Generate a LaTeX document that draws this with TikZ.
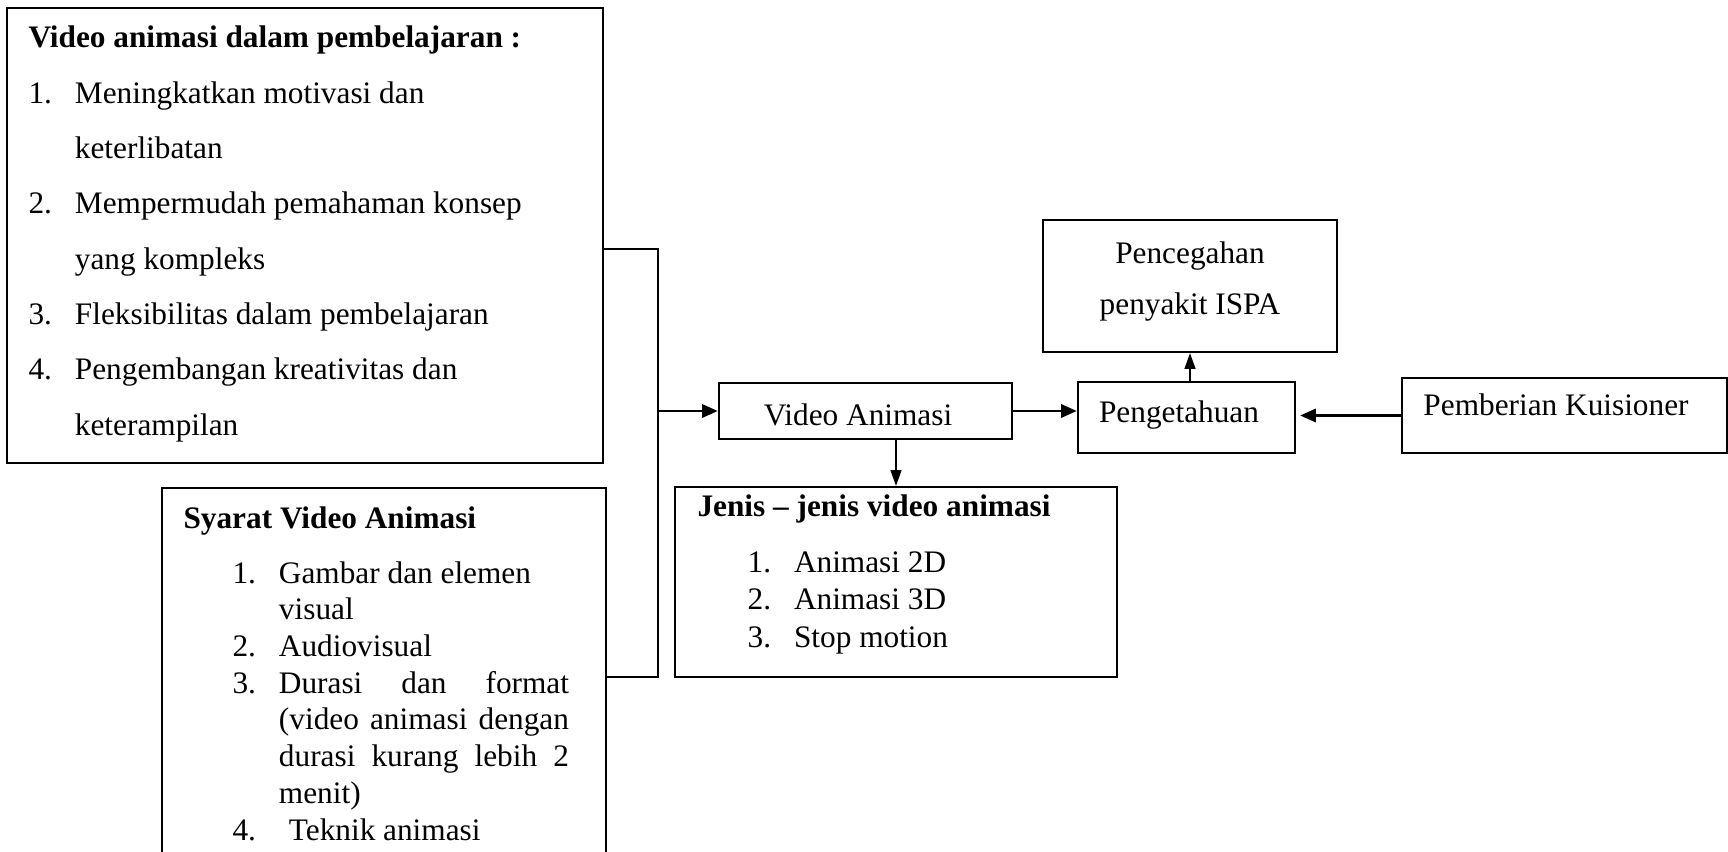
\documentclass[tikz,border=0pt]{standalone}
\usepackage{fontspec}
\setmainfont{Liberation Serif}
\usetikzlibrary{positioning,fit,calc,arrows.meta}

\newcommand{\itemno}[1]{\makebox[17.8pt][l]{#1}}
\newcommand{\syitem}[1]{\hspace*{18.8pt}\itemno{#1}}
\newcommand{\jnitem}[1]{\hspace*{19.2pt}\itemno{#1}}

\begin{document}
\begin{tikzpicture}[x=0.3834pt, y=-0.3834pt, line join=miter,
  font=\fontsize{12}{14.4}\selectfont,
  box/.style={draw, line width=0.9pt, inner sep=0pt},
  txt/.style={anchor=base west, align=left, inner sep=0pt},
  label/.style={anchor=base, inner sep=0pt},
  link/.style={line width=0.8pt},
  arr/.style={line width=1.1pt, -{Triangle[length=6pt,width=5pt]}},
  thinarr/.style={line width=0.5pt, -{Triangle[length=6pt,width=4.2pt]}}]
  \useasboundingbox (0,0) rectangle (1728,851);

  % boxes
  \node[box, line width=0.6pt, fit={(7,8) (603,463)}] (benefit) {};
  \node[box, fit={(162,488) (606,880)}] (syarat) {};
  \node[box, fit={(719,383) (1012,439)}] (va) {};
  \node[box, fit={(675,487) (1117,677)}] (jenis) {};
  \node[box, fit={(1078,382) (1295,453)}] (peng) {};
  \node[box, fit={(1043,220) (1337,352)}] (cegah) {};
  \node[box, fit={(1402,378) (1727,453)}] (kuis) {};

  % short texts (base of the last line)
  \node[label] (vatext) at (858,425) {Video Animasi};
  \node[label] (pengtext) at (1179,422) {Pengetahuan};
  \node[label] (kuistext) at (1556,415) {Pemberian Kuisioner};
  \node[label, align=center, font=\fontsize{12}{19.2}\selectfont]
       (cegahtext) at (1190,314) {Pencegahan\\penyakit ISPA};

  % lists
  \node[txt, font=\fontsize{12}{21.2}\selectfont] (benefittext) at (28,435) {%
    \textbf{Video animasi dalam pembelajaran :}\\
    \itemno{1.}Meningkatkan motivasi dan\\
    \itemno{}keterlibatan\\
    \itemno{2.}Mempermudah pemahaman konsep\\
    \itemno{}yang kompleks\\
    \itemno{3.}Fleksibilitas dalam pembelajaran\\
    \itemno{4.}Pengembangan kreativitas dan\\
    \itemno{}keterampilan};
  \node[txt, font=\fontsize{12}{14.07}\selectfont] (syarattext) at (183,840) {%
    \textbf{Syarat Video Animasi}\\[7pt]
    \syitem{1.}Gambar dan elemen\\
    \syitem{}visual\\
    \syitem{2.}Audiovisual\\
    \syitem{3.}\makebox[111.2pt][s]{Durasi dan format}\\
    \syitem{}\makebox[111.2pt][s]{(video animasi dengan}\\
    \syitem{}\makebox[111.2pt][s]{durasi kurang lebih 2}\\
    \syitem{}menit)\\
    \syitem{4.}\hspace{3.8pt}Teknik animasi};
  \node[txt, font=\fontsize{12}{14.2}\selectfont] (jenistext) at (697,647) {%
    \textbf{Jenis -- jenis video animasi}\\[7.3pt]
    \jnitem{1.}Animasi 2D\\
    \jnitem{2.}Animasi 3D\\
    \jnitem{3.}Stop motion};

  % connectors
  \coordinate (bustop) at (658,249);
  \coordinate (busbot) at (658,677);
  \draw[link] (bustop -| benefit.east) -- (bustop) -- (busbot) -- (busbot -| syarat.east);
  \draw[arr] (bustop |- va.west) -- (va.west);
  \draw[arr] (va.east) -- (va.east -| peng.west);
  \draw[arr, shorten >=1.5pt] (kuis.west) -- (kuis.west -| peng.east);
  \draw[thinarr] (va.south -| jenis.north) -- (jenis.north);
  \draw[thinarr] (peng.north -| cegah.south) -- (cegah.south);
\end{tikzpicture}
\end{document}
